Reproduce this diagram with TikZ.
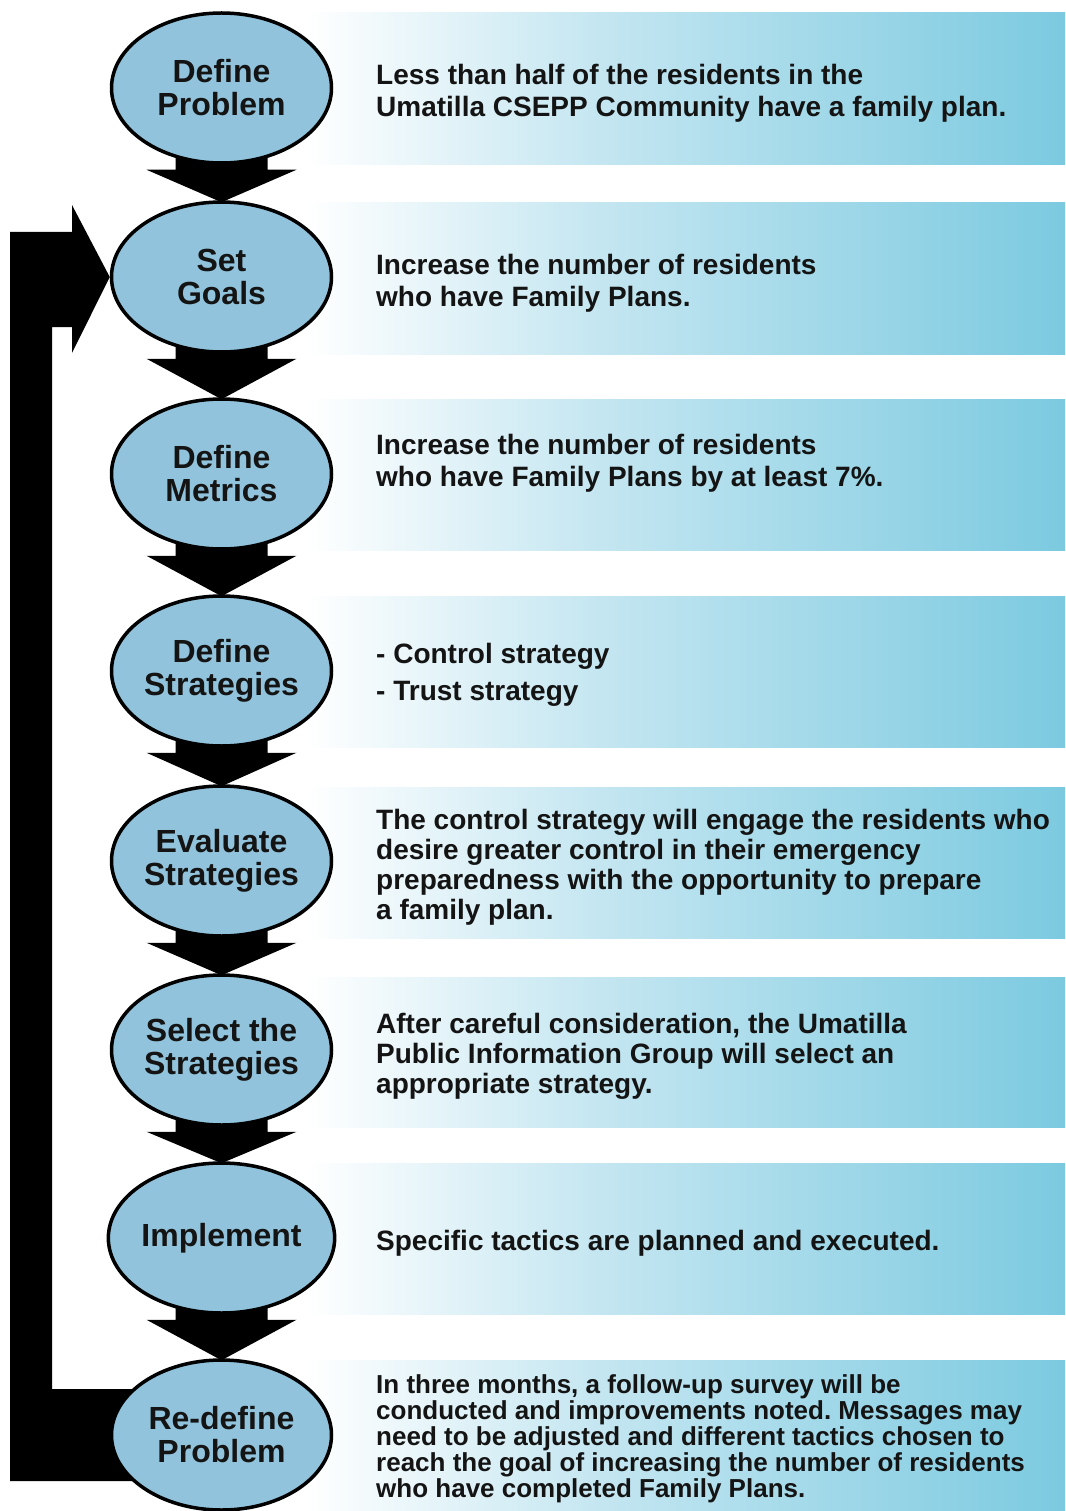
\documentclass[tikz,border=0pt]{standalone}
\usepackage{fontspec}
\setmainfont{Liberation Sans}
\usetikzlibrary{shapes.geometric,calc}
\frenchspacing
\definecolor{ellfill}{RGB}{145,196,220}
\definecolor{bandmid}{RGB}{196,230,241}
\definecolor{bandright}{RGB}{124,202,224}
\definecolor{txt}{RGB}{20,20,20}
\pgfdeclarehorizontalshading{bandshade}{100bp}{color(0bp)=(white); color(26bp)=(white); color(45bp)=(bandmid); color(75bp)=(bandright); color(100bp)=(bandright)}
\pgfdeclarelayer{bg}
\pgfsetlayers{bg,main}
\tikzset{
 stage/.style={ellipse, draw=black, line width=3.5pt, fill=ellfill, minimum width=220pt, minimum height=150pt, inner sep=0pt, align=center, font=\bfseries\fontsize{32}{33}\selectfont, text=txt},
 desc/.style={anchor=west, align=left, inner sep=0pt, font=\bfseries\fontsize{28}{30}\selectfont, text=txt},
 bandbox/.style={shading=bandshade},
 flowarrow/.style={fill=black},
}
\newcommand{\flowdown}[2]{\fill[flowarrow] ($(#1.center)+(-46,0)$) -- ($(#1.south)+(-46,5)$) -- ($(#1.south)+(-75,5)$) -- ($(#2.north)+(0,2)$) -- ($(#1.south)+(75,5)$) -- ($(#1.south)+(46,5)$) -- ($(#1.center)+(46,0)$) -- cycle;}
\begin{document}
\begin{tikzpicture}[x=1pt,y=-1pt]
\useasboundingbox (0,0) rectangle (1065,1511);
% stages
\node[stage] (e1) at (221.5,88) {Define\\Problem};
\node[stage] (e2) at (221.5,277) {Set\\Goals};
\node[stage] (e3) at (221.5,474) {Define\\Metrics};
\node[stage] (e4) at (221.5,671) {Define\\Strategies};
\node[stage] (e5) at (221.5,861) {Evaluate\\Strategies};
\node[stage] (e6) at (221.5,1050) {Select the\\Strategies};
\node[stage] (e7) at (221.5,1238) {Implement};
\node[stage] (e8) at (221.5,1435) {Re-define\\Problem};
% descriptions
\node[desc, font=\bfseries\fontsize{28}{32}\selectfont] (t1) at (376,93) {Less than half of the residents in the\\Umatilla CSEPP Community have a family plan.};
\node[desc, font=\bfseries\fontsize{28}{32}\selectfont] (t2) at (376,283) {Increase the number of residents\\who have Family Plans.};
\node[desc, font=\bfseries\fontsize{28}{32}\selectfont] (t3) at (376,463) {Increase the number of residents\\who have Family Plans by at least 7\%.};
\node[desc, font=\bfseries\fontsize{28}{37}\selectfont] (t4) at (376,675) {- Control strategy\\- Trust strategy};
\node[desc] (t5) at (376,867) {The control strategy will engage the residents who\\desire greater control in their emergency\\preparedness with the opportunity to prepare\\a family plan.};
\node[desc] (t6) at (376,1056) {After careful consideration, the Umatilla\\Public Information Group will select an\\appropriate strategy.};
\node[desc] (t7) at (376,1243) {Specific tactics are planned and executed.};
\node[desc, font=\bfseries\fontsize{26}{26}\selectfont] (t8) at (376,1439) {In three months, a follow-up survey will be\\conducted and improvements noted. Messages may\\need to be adjusted and different tactics chosen to\\reach the goal of increasing the number of residents\\who have completed Family Plans.};
\begin{pgfonlayer}{bg}
\fill[white] (0,0) rectangle (1065,1511);
% bands
\path[bandbox] (290,13) rectangle (1065,165);
\path[bandbox] (290,203) rectangle (1065,354);
\path[bandbox] (290,399) rectangle (1065,550);
\path[bandbox] (290,596) rectangle (1065,747);
\path[bandbox] (290,787) rectangle (1065,938);
\path[bandbox] (290,977) rectangle (1065,1127);
\path[bandbox] (290,1163) rectangle (1065,1314);
\path[bandbox] (290,1360) rectangle (1065,1511);
% connectors
\flowdown{e1}{e2}
\flowdown{e2}{e3}
\flowdown{e3}{e4}
\flowdown{e4}{e5}
\flowdown{e5}{e6}
\flowdown{e6}{e7}
\flowdown{e7}{e8}
\fill[flowarrow] ($(e8.center)+(0,46)$) -- (10,1481) -- (10,232) -- (72,232) -- (72,205) -- (e2.west) -- (72,353) -- (72,327) -- (52,327) -- (52,1389) -- ($(e8.center)+(0,-46)$) -- cycle;
\end{pgfonlayer}
\end{tikzpicture}
\end{document}
